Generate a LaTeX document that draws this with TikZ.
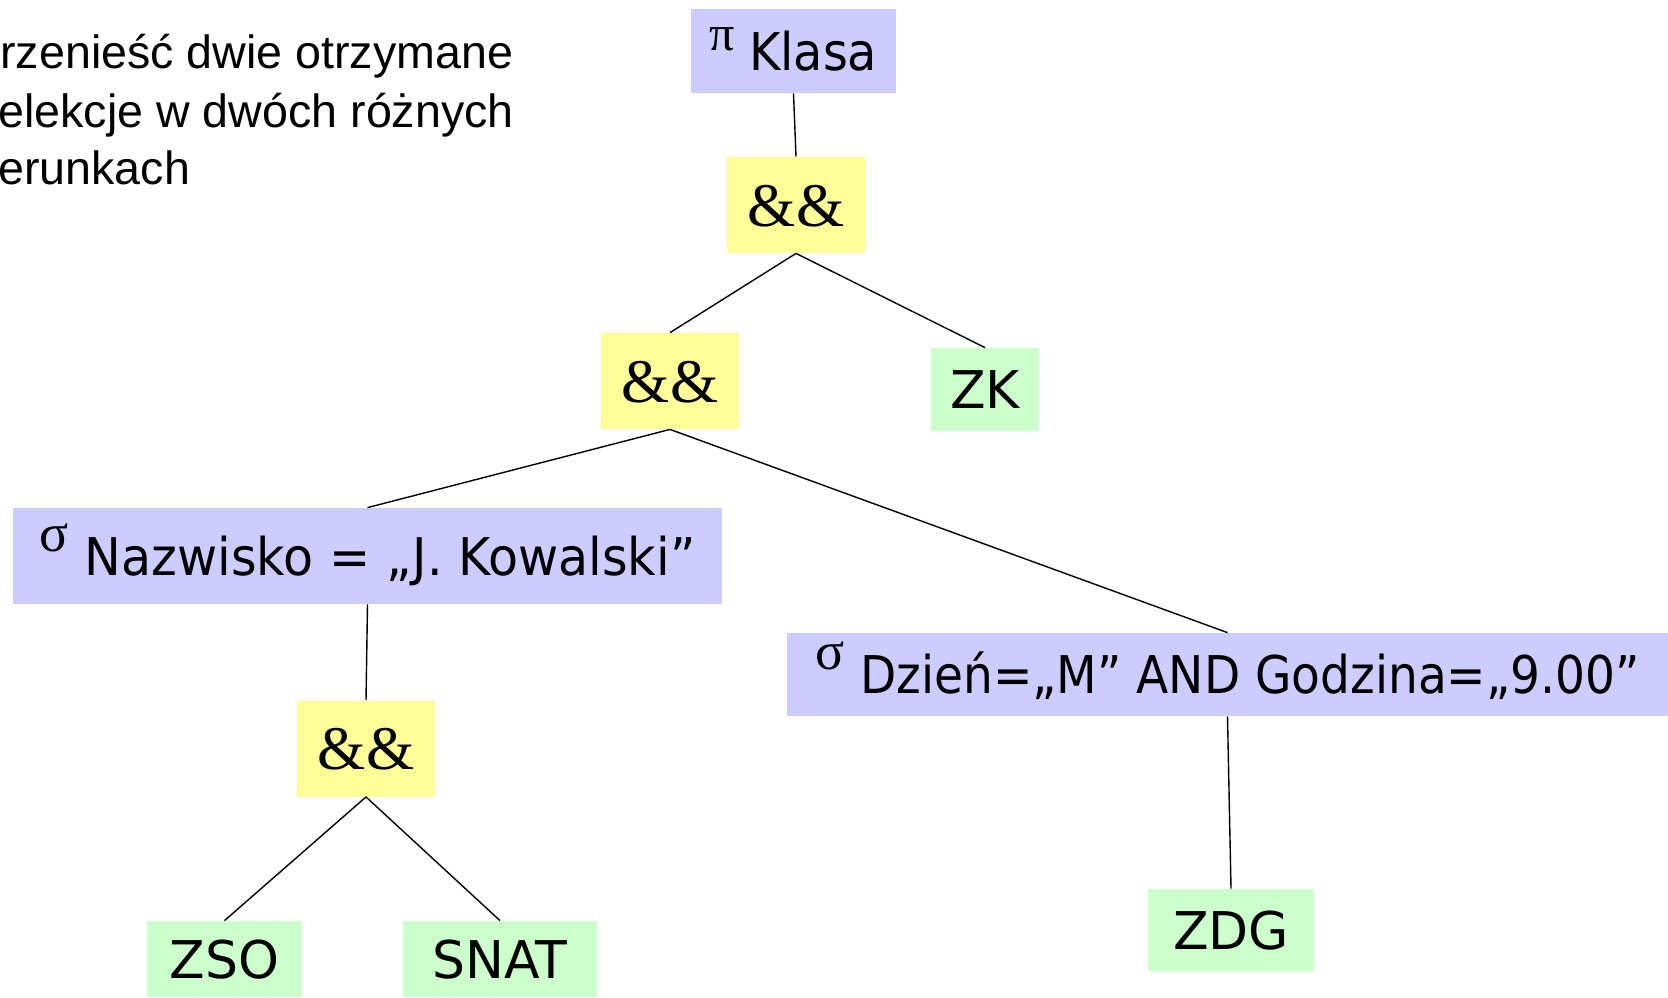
\documentclass[tikz,border=0pt]{standalone}
\usepackage{fontspec}
\newfontfamily\labelfont{DejaVu Sans}
\newfontfamily\projlabel[FakeStretch=0.92]{DejaVu Sans}
\newfontfamily\namelabel[FakeStretch=0.945]{DejaVu Sans}
\newfontfamily\daylabel[FakeStretch=0.905]{DejaVu Sans}
\newfontfamily\opfont{Liberation Serif}
\newfontfamily\notefont{Liberation Sans}
\definecolor{selfill}{HTML}{CCCCFF}
\definecolor{opfill}{HTML}{FFFF99}
\definecolor{relfill}{HTML}{CCFFCC}
% raised Greek operator symbol (projection / selection)
\newcommand\greekop[3]{\raisebox{#1}{\opfont\fontsize{#2}{#2}\selectfont #3}}
\begin{document}
\begin{tikzpicture}[x=0.5pt,y=-0.5pt,
  labelbox/.style={inner sep=0pt, text height=19pt, text depth=0pt},
  selbox/.style={labelbox, fill=selfill},
  relbox/.style={labelbox, fill=relfill, font=\labelfont\fontsize{26}{26}\selectfont},
  opbox/.style={inner sep=0pt, fill=opfill, minimum width=69pt, minimum height=48pt,
    text height=21pt, text depth=0pt, font=\opfont\fontsize{31}{31}\selectfont},
  note/.style={anchor=base west, inner sep=0pt, font=\notefont\fontsize{23.3}{23.3}\selectfont},
  edge/.style={line width=0.7pt}]
\useasboundingbox (0,0) rectangle (1668,997);

% explanatory text
\node[note] (n1) at (0,68) {rzenieść dwie otrzymane};
\node[note] (n2) at (-2,127) {elekcje w dwóch różnych};
\node[note] (n3) at (-2,184) {erunkach};

% operator tree
\node[selbox, minimum width=102.5pt, minimum height=42pt,
  font=\projlabel\fontsize{26}{26}\selectfont] (klasa) at (793.5,51)
  {\greekop{10pt}{25}{π}\hspace{7pt}Klasa};
\node[opbox] (and1) at (796,205) {\&\&};
\node[opbox] (and2) at (670,381) {\&\&};
\node[relbox, minimum width=54pt, minimum height=41.5pt] (zk) at (985,389.5) {ZK};
\node[selbox, minimum width=354.5pt, minimum height=48pt,
  font=\namelabel\fontsize{26}{26}\selectfont] (naz) at (367.5,556)
  {\greekop{12pt}{27}{σ}\hspace{8pt}Nazwisko = „J. Kowalski”\hspace{4.3pt}};
\node[selbox, minimum width=440.5pt, minimum height=41.5pt,
  font=\daylabel\fontsize{26}{26}\selectfont] (dzien) at (1227.5,674.5)
  {\greekop{12pt}{27}{σ}\hspace{8pt}Dzień=„M” AND Godzina=„9.00”\hspace{6.9pt}};
\node[opbox] (and3) at (366,748.5) {\&\&};
\node[relbox, minimum width=77.5pt, minimum height=38pt] (zso) at (224.5,959) {ZSO};
\node[relbox, minimum width=97pt, minimum height=38pt] (snat) at (500,959) {SNAT};
\node[relbox, minimum width=83pt, minimum height=41pt] (zdg) at (1231,930) {ZDG};

% connectors
\draw[edge] (klasa.south) -- (and1.north);
\draw[edge] (and1.south) -- (and2.north);
\draw[edge] (and1.south) -- (zk.north);
\draw[edge] (and2.south) -- (naz.north);
\draw[edge] (and2.south) -- (dzien.north);
\draw[edge] (naz.south) -- (and3.north);
\draw[edge] (and3.south) -- (zso.north);
\draw[edge] (and3.south) -- (snat.north);
\draw[edge] (dzien.south) -- (zdg.north);
\end{tikzpicture}
\end{document}
